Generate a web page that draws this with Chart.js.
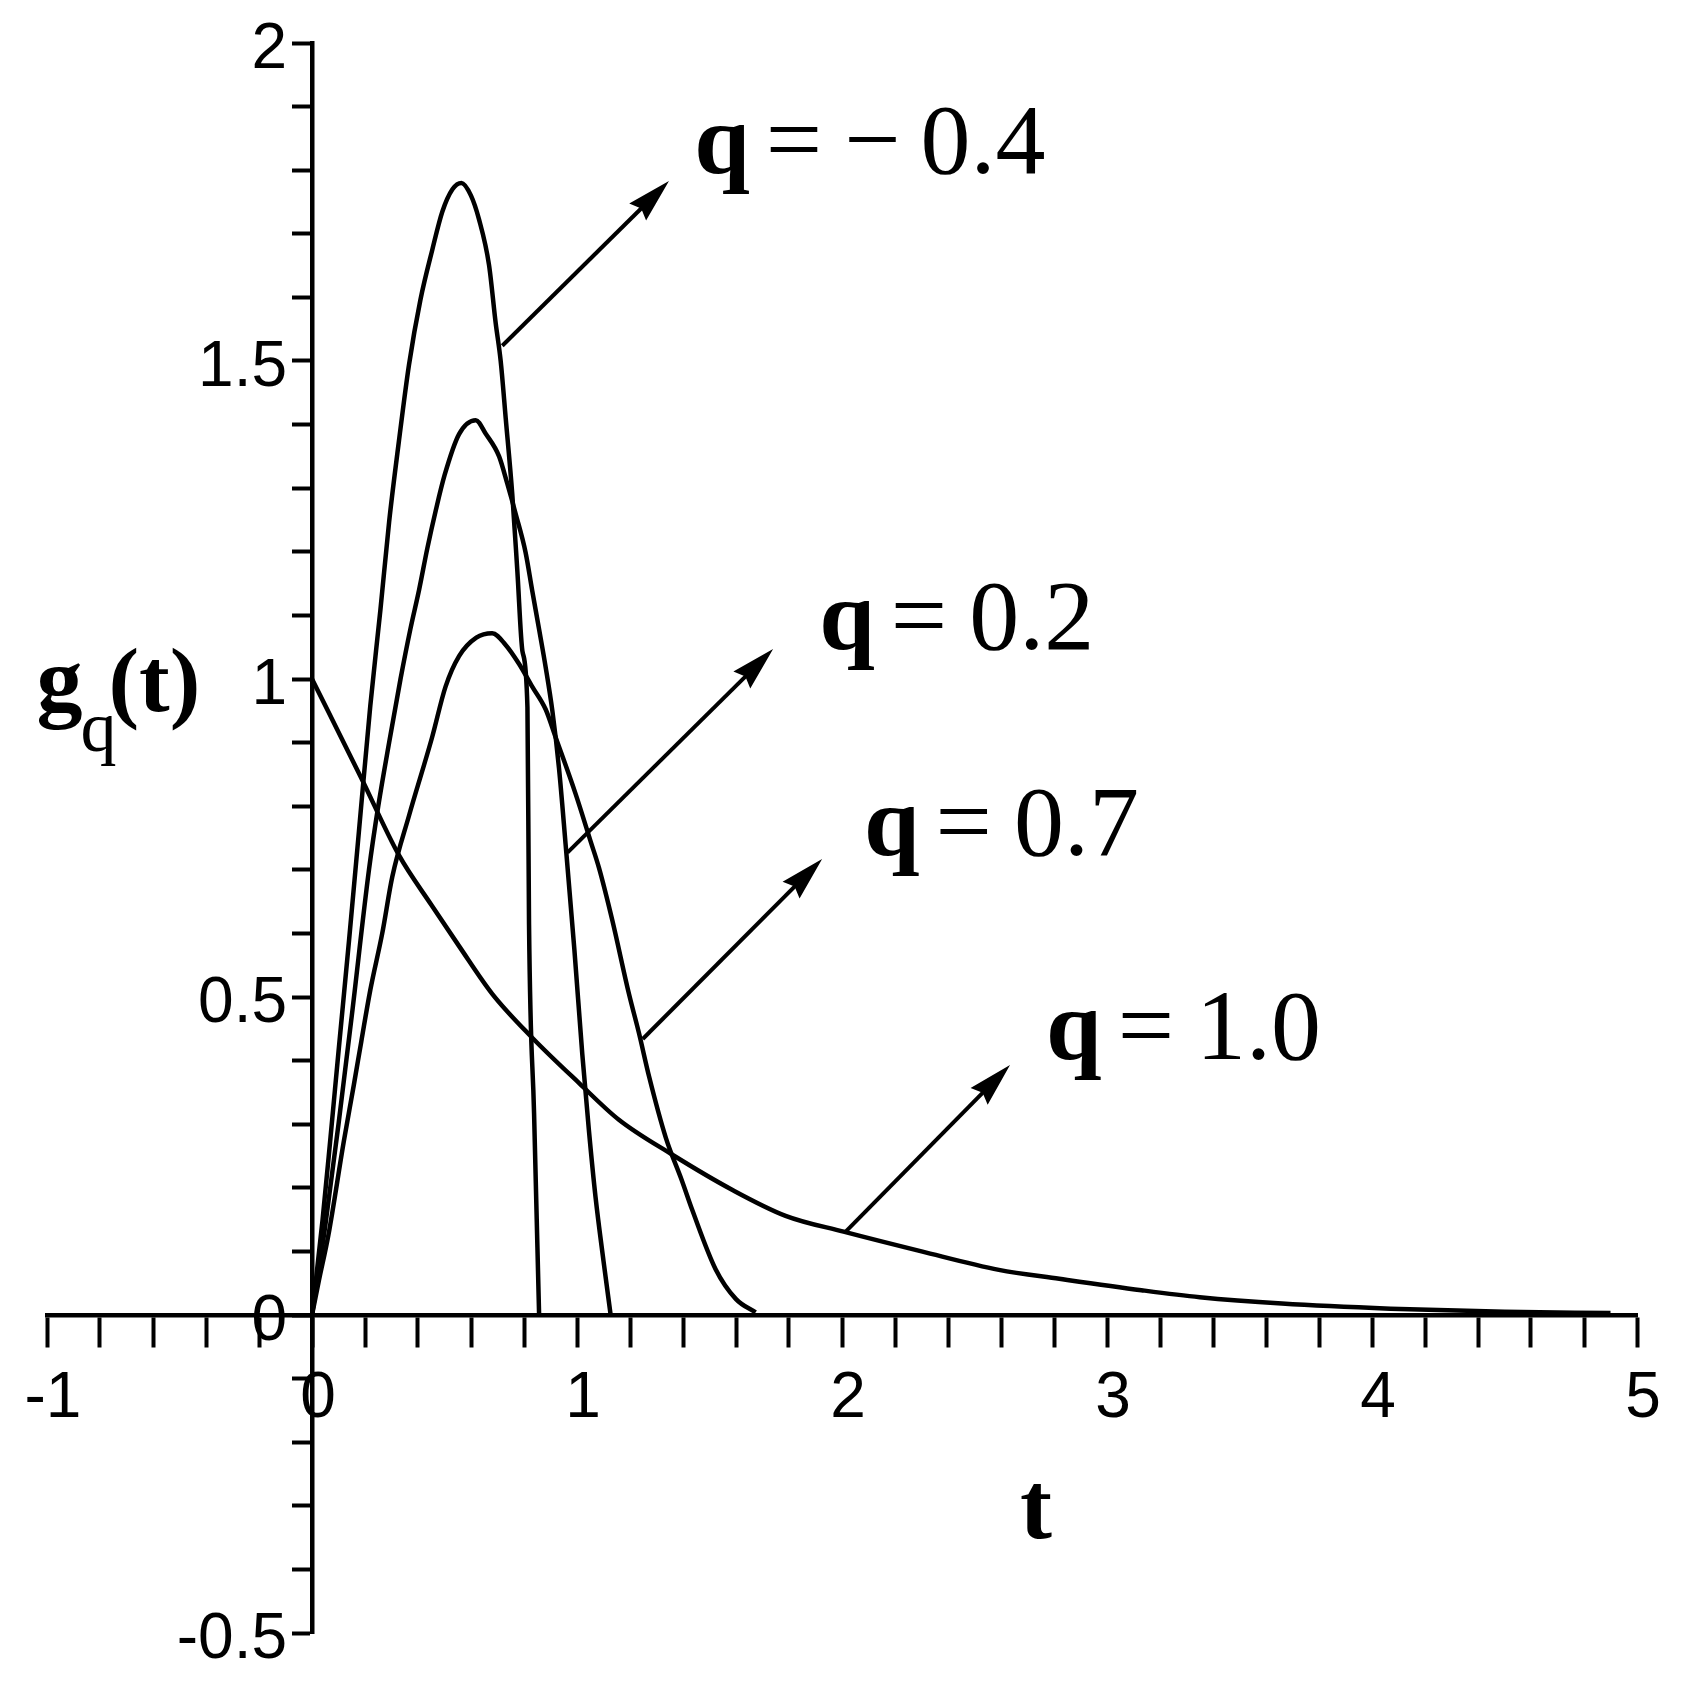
<!DOCTYPE html>
<html>
<head>
<meta charset="utf-8">
<title>g_q(t)</title>
<script src="https://cdn.jsdelivr.net/npm/chart.js@4.4.1/dist/chart.umd.min.js"></script>
<style>
  html, body { margin: 0; padding: 0; background: #fff; }
  #contenedor { width: 1682px; height: 1697px; position: relative; }
</style>
</head>
<body>
<div id="contenedor"><canvas id="grafico"></canvas></div>
<script>
// Valores: curva q = -0.4
const tQm04 = [0, 0.04, 0.07, 0.1, 0.14, 0.177, 0.22, 0.258, 0.291, 0.328, 0.366, 0.409, 0.454, 0.492, 0.53, 0.564, 0.6, 0.63, 0.668, 0.693, 0.712, 0.731, 0.756, 0.775, 0.794, 0.813, 0.819, 0.838, 0.857];
const gQm04 = [0, 0.15, 0.28, 0.414, 0.59, 0.76, 0.958, 1.108, 1.247, 1.374, 1.494, 1.596, 1.675, 1.735, 1.77, 1.78, 1.76, 1.723, 1.651, 1.56, 1.5, 1.41, 1.289, 1.169, 1.044, 0.955, 0.614, 0.317, 0];

// curva q = 0.2
const tQ02 = [0, 0.05, 0.1, 0.15, 0.215, 0.25, 0.291, 0.334, 0.372, 0.404, 0.435, 0.467, 0.5, 0.555, 0.618, 0.655, 0.706, 0.737, 0.769, 0.806, 0.831, 0.857, 0.882, 0.907, 0.932, 0.957, 0.99, 1.02, 1.045, 1.07, 1.1, 1.127];
const gQ02 = [0, 0.14, 0.3, 0.47, 0.7, 0.8, 0.9, 1.0, 1.08, 1.14, 1.205, 1.265, 1.32, 1.385, 1.407, 1.386, 1.35, 1.307, 1.259, 1.199, 1.139, 1.078, 1.018, 0.95, 0.86, 0.74, 0.575, 0.41, 0.29, 0.185, 0.085, 0];

// curva q = 0.7
const tQ07 = [0, 0.026, 0.062, 0.12, 0.158, 0.186, 0.22, 0.265, 0.303, 0.366, 0.453, 0.504, 0.555, 0.62, 0.68, 0.73, 0.781, 0.831, 0.882, 0.918, 0.995, 1.052, 1.083, 1.133, 1.196, 1.234, 1.272, 1.335, 1.397, 1.435, 1.523, 1.6, 1.674];
const gQ07 = [0, 0.054, 0.126, 0.273, 0.362, 0.43, 0.511, 0.6, 0.689, 0.785, 0.908, 0.988, 1.036, 1.065, 1.072, 1.054, 1.024, 0.988, 0.952, 0.91, 0.819, 0.744, 0.703, 0.621, 0.505, 0.443, 0.375, 0.279, 0.21, 0.165, 0.072, 0.025, 0.004];

// curva q = 1.0
const tQ10 = [0, 0.184, 0.328, 0.45, 0.555, 0.68, 0.831, 1.007, 1.158, 1.36, 1.585, 1.787, 2.006, 2.3, 2.592, 2.82, 3.13, 3.35, 3.66, 4.07, 4.5, 4.9];
const gQ10 = [1.0, 0.846, 0.723, 0.645, 0.58, 0.505, 0.436, 0.365, 0.307, 0.252, 0.197, 0.156, 0.131, 0.1, 0.071, 0.057, 0.039, 0.028, 0.018, 0.01, 0.005, 0.003];

// etiquetas de los ejes
const etiquetasT = [-1, 0, 1, 2, 3, 4, 5];
const etiquetasG = [-0.5, 0, 0.5, 1, 1.5, 2];

// flechas y textos "q = ..." (en unidades de los datos)
const flechas = [
    { desde: [0.718, 1.524], hasta: [1.347, 1.783] },
    { desde: [0.964, 0.727], hasta: [1.74, 1.047] },
    { desde: [1.248, 0.434], hasta: [1.925, 0.717] },
    { desde: [2.014, 0.131], hasta: [2.634, 0.393] }
];
const textosQ = [
    { t: 1.442, g: 1.795, valor: ['\u2212', '0.4'] },
    { t: 1.914, g: 1.047, valor: ['0.2'] },
    { t: 2.083, g: 0.724, valor: ['0.7'] },
    { t: 2.770, g: 0.403, valor: ['1.0'] }
];

const SERIF = '"Liberation Serif", "Times New Roman", serif';
const SANS = '"Liberation Sans", Arial, sans-serif';

function armarPuntos(ts, gs) {
    return ts.map((t, i) => ({ x: t, y: gs[i] }));
}

function esEtiqueta(lista, v) {
    const e = lista.find(k => Math.abs(k - v) < 1e-6);
    return e === undefined ? '' : String(e);
}

// Dibuja una flecha con punta rellena
function dibujarFlecha(ctx, x1, y1, x2, y2) {
    const ang = Math.atan2(y2 - y1, x2 - x1);
    const largo = 44, ancho = 12;
    const bx = x2 - largo * Math.cos(ang);
    const by = y2 - largo * Math.sin(ang);
    ctx.beginPath();
    ctx.moveTo(x1, y1);
    ctx.lineTo(bx + 6 * Math.cos(ang), by + 6 * Math.sin(ang));
    ctx.stroke();
    ctx.beginPath();
    ctx.moveTo(x2, y2);
    ctx.lineTo(bx + ancho * Math.sin(ang), by - ancho * Math.cos(ang));
    ctx.lineTo(bx + 5 * Math.cos(ang), by + 5 * Math.sin(ang));
    ctx.lineTo(bx - ancho * Math.sin(ang), by + ancho * Math.cos(ang));
    ctx.closePath();
    ctx.fill();
}

// Plugin para flechas, textos, etiquetas del eje vertical y titulos
const anotaciones = {
    id: 'anotaciones',
    afterDatasetsDraw(chart) {
        const ctx = chart.ctx;
        const sx = chart.scales.x;
        const sy = chart.scales.y;
        ctx.save();
        ctx.strokeStyle = '#000';
        ctx.fillStyle = '#000';
        ctx.lineWidth = 4;
        ctx.lineCap = 'butt';

        flechas.forEach(f => {
            dibujarFlecha(ctx,
                sx.getPixelForValue(f.desde[0]), sy.getPixelForValue(f.desde[1]),
                sx.getPixelForValue(f.hasta[0]), sy.getPixelForValue(f.hasta[1]));
        });

        // etiquetas del eje g, a la izquierda de las marcas
        const xEje = sx.getPixelForValue(0);
        ctx.font = '64px ' + SANS;
        ctx.textAlign = 'right';
        ctx.textBaseline = 'middle';
        etiquetasG.forEach(v => {
            ctx.fillText(String(v), xEje - 25, sy.getPixelForValue(v) + 7);
        });

        ctx.textBaseline = 'alphabetic';
        ctx.textAlign = 'left';
        textosQ.forEach(e => {
            let px = sx.getPixelForValue(e.t);
            const py = sy.getPixelForValue(e.g);
            ctx.font = 'bold 100px ' + SERIF;
            ctx.fillText('q', px, py);
            px += ctx.measureText('q').width + 16;
            ctx.font = '100px ' + SERIF;
            ctx.fillText('=', px, py);
            px += ctx.measureText('=').width + 22;
            e.valor.forEach(parte => {
                ctx.fillText(parte, px, py);
                px += ctx.measureText(parte).width + 20;
            });
        });

        // titulo eje vertical: g_q(t)
        let gx = sx.getPixelForValue(-1.04);
        const gy = sy.getPixelForValue(0.95);
        ctx.font = 'bold 92px ' + SERIF;
        ctx.fillText('g', gx, gy);
        gx += ctx.measureText('g').width;
        ctx.font = '72px ' + SERIF;
        ctx.fillText('q', gx - 2, gy + 40);
        gx += ctx.measureText('q').width - 10;
        ctx.font = 'bold 92px ' + SERIF;
        ctx.fillText('(t)', gx, gy);

        // titulo eje horizontal: t
        ctx.font = 'bold 96px ' + SERIF;
        ctx.fillText('t', sx.getPixelForValue(2.672), sy.getPixelForValue(-0.351));
        ctx.restore();
    }
};

const estiloCurva = {
    borderColor: '#000',
    borderWidth: 4.5,
    pointRadius: 0,
    fill: false,
    cubicInterpolationMode: 'monotone'
};

const data = {
    datasets: [
        Object.assign({ label: 'q = -0.4', data: armarPuntos(tQm04, gQm04) }, estiloCurva),
        Object.assign({ label: 'q = 0.2', data: armarPuntos(tQ02, gQ02) }, estiloCurva),
        Object.assign({ label: 'q = 0.7', data: armarPuntos(tQ07, gQ07) }, estiloCurva),
        Object.assign({ label: 'q = 1.0', data: armarPuntos(tQ10, gQ10) }, estiloCurva)
    ]
};

const options = {
    responsive: true,
    maintainAspectRatio: false,
    animation: false,
    layout: { padding: { left: 47, right: 45, top: 43, bottom: 64 } },
    plugins: {
        legend: { display: false },
        tooltip: { enabled: false }
    },
    scales: {
        x: {
            type: 'linear',
            min: -1,
            max: 5,
            position: { y: 0 },
            afterFit: s => { s.height = 0; },
            border: { display: true, color: '#000', width: 4.5 },
            grid: { drawOnChartArea: false, drawTicks: true, tickLength: 30, tickWidth: 4, tickColor: '#000' },
            ticks: {
                stepSize: 0.2,
                autoSkip: false,
                maxRotation: 0,
                minRotation: 0,
                padding: 16,
                labelOffset: 6,
                color: '#000',
                font: { family: SANS, size: 64 },
                callback: v => esEtiqueta(etiquetasT, v)
            }
        },
        y: {
            type: 'linear',
            min: -0.5,
            max: 2,
            position: { x: 0 },
            afterFit: s => { s.width = 0; },
            border: { display: true, color: '#000', width: 4.5 },
            grid: { drawOnChartArea: false, drawTicks: true, tickLength: 18, tickWidth: 4, tickColor: '#000' },
            ticks: {
                stepSize: 0.1,
                autoSkip: false,
                display: false
            }
        }
    }
};

new Chart(document.getElementById('grafico'), {
    type: 'line',
    data: data,
    options: options,
    plugins: [anotaciones]
});
</script>
</body>
</html>
